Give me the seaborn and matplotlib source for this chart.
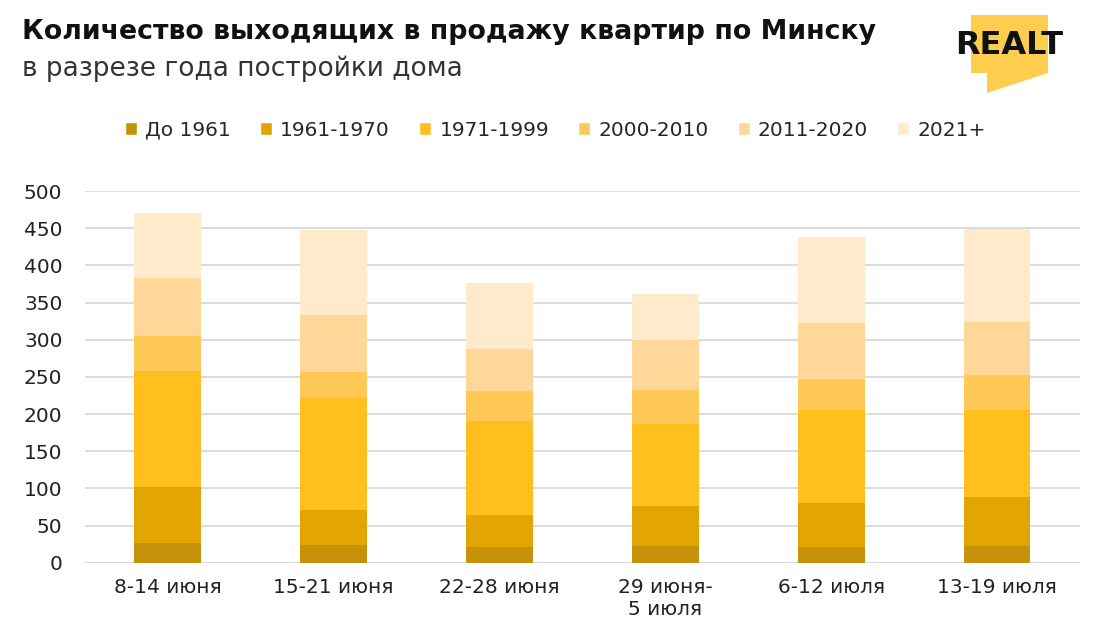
import numpy as np
import pandas as pd
import seaborn as sns
import matplotlib.pyplot as plt
from matplotlib.patches import Patch, Polygon

weeks = ['8-14 июня', '15-21 июня', '22-28 июня', '29 июня-\n5 июля', '6-12 июля', '13-19 июля']
groups = ['До 1961', '1961-1970', '1971-1999', '2000-2010', '2011-2020', '2021+']
до_1961 = [27, 24, 21, 23, 21, 23]
y1961_1970 = [75, 47, 43, 53, 60, 65]
y1971_1999 = [156, 151, 127, 111, 125, 117]
y2000_2010 = [47, 35, 40, 46, 41, 48]
y2011_2020 = [78, 76, 57, 66, 76, 71]
y2021 = [87, 115, 88, 63, 115, 125]
colors = ['#C6920A', '#E2A502', '#FFBF1F', '#FFC957', '#FFD899', '#FFEBCB']

sns.set_style('white')
plt.rcParams['font.family'] = ['DejaVu Sans']

df = pd.DataFrame({'week': weeks, groups[0]: до_1961, groups[1]: y1961_1970,
                   groups[2]: y1971_1999, groups[3]: y2000_2010,
                   groups[4]: y2011_2020, groups[5]: y2021})
cum = df[groups].cumsum(axis=1)
cum['week'] = df['week']

fig = plt.figure(figsize=(11, 6.41), dpi=100)
ax = fig.add_axes([0.077, 0.122, 0.905, 0.58])

# draw from the top layer down so lower layers cover the rest
for g, c in reversed(list(zip(groups, colors))):
    sns.barplot(data=cum, x='week', y=g, color=c, width=0.4, ax=ax,
                saturation=1, edgecolor='none', zorder=3)

ax.set_ylim(0, 500)
ax.set_xlim(-0.5, 5.5)
ax.set_yticks(range(0, 501, 50))
ax.yaxis.grid(True, color='#dcdcdc', linewidth=1.4, zorder=0)
ax.set_axisbelow(True)
for s in ax.spines.values():
    s.set_visible(False)
ax.set_xlabel('')
ax.set_ylabel('')
ax.tick_params(axis='both', length=0, labelsize=14.5, colors='#222222')
ax.tick_params(axis='x', pad=11)
ax.tick_params(axis='y', pad=16)

handles = [Patch(facecolor=c, label=g) for g, c in zip(groups, colors)]
fig.legend(handles=handles, loc='center', bbox_to_anchor=(0.505, 0.797), ncol=6,
           frameon=False, fontsize=14.5, handlelength=0.6, handleheight=0.6,
           handletextpad=0.4, columnspacing=1.45)

fig.text(0.02, 0.950, 'Количество выходящих в продажу квартир по Минску',
         fontsize=19.3, fontweight='bold', color='#111111', va='center')
fig.text(0.02, 0.893, 'в разрезе года постройки дома',
         fontsize=19, color='#333333', va='center')

# logo
pts = [(971, 15), (1048, 15), (1048, 73), (987, 93), (987, 73), (971, 73)]
logo = Polygon([(x / 1100, 1 - y / 641) for x, y in pts], closed=True,
               transform=fig.transFigure, facecolor='#FFCD4E', edgecolor='none')
fig.patches.append(logo)
fig.text(1009 / 1100, 1 - 46 / 641, 'REALT', fontsize=23, fontweight='bold',
         color='#111111', ha='center', va='center')

fig.savefig('out.png', dpi=100)
